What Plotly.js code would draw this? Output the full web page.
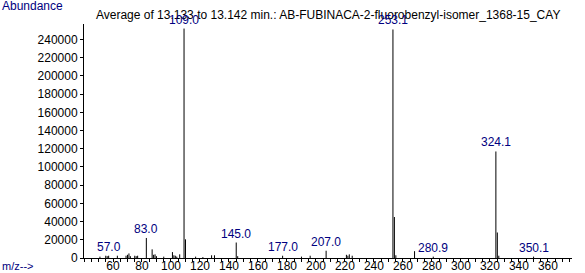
<!DOCTYPE html>
<html>
<head>
<meta charset="utf-8">
<script src="https://cdn.plot.ly/plotly-3.0.1.min.js"></script>
<style>html,body{margin:0;padding:0;background:#fff;}#chart{width:585px;height:273px;}</style>
</head>
<body>
<div id="chart"></div>
<script>
// m/z values of the peaks and their abundances
const mz = [51.0, 55.0, 56.0, 57.0, 63.0, 69.0, 70.0, 71.0, 72.0, 75.0, 76.0, 77.0,
  83.0, 87.0, 88.0, 89.0, 90.0, 95.0, 101.0, 102.0, 103.0, 104.0, 106.0,
  109.0, 110.0, 117.0, 122.0, 128.0, 130.0, 145.0, 146.0, 177.0, 190.0, 196.0,
  207.0, 221.0, 222.0, 223.0, 225.0, 253.1, 254.1, 255.1, 268.0, 280.9,
  324.1, 325.1, 326.1, 350.1];
const abundance = [1500, 2500, 2000, 2500, 2500, 2500, 3500, 5000, 2000, 2500, 2000, 2500,
  22000, 9500, 3500, 4000, 2000, 1500, 6500, 3000, 2500, 1500, 4000,
  252000, 20500, 1500, 1000, 3000, 3000, 17000, 2000, 2500, 1500, 2500,
  8000, 3500, 2500, 4000, 2500, 251000, 45000, 3000, 7500, 1500,
  117000, 28000, 2500, 1500];
// labelled peaks
const labelMz = [57.0, 83.0, 109.0, 145.0, 177.0, 207.0, 253.1, 280.9, 324.1, 350.1];
const labelText = ["57.0", "83.0", "109.0", "145.0", "177.0", "207.0", "253.1", "280.9", "324.1", "350.1"];
// x tick labels
const xTickVals = [60, 80, 100, 120, 140, 160, 180, 200, 220, 240, 260, 280, 300, 320, 340, 360];
const xTickText = ["60", "80", "100", "120", "140", "160", "180", "200", "220", "240", "260", "280", "300", "320", "340", "360"];

const titleText = "Average of 13.133 to 13.142 min.: AB-FUBINACA-2-fluorobenzyl-isomer_1368-15_CAY";
const yLabel = "Abundance";
const xLabel = "m/z-->";

const FONT = 'Liberation Sans, Arial, sans-serif';
const xs = [], ys = [];
mz.forEach((m, i) => { xs.push(m, m, null); ys.push(0, abundance[i], null); });

const annotations = labelMz.map((m, i) => {
  const idx = mz.indexOf(m);
  return {
    x: m, y: abundance[idx], xref: 'x', yref: 'y', text: labelText[i],
    showarrow: false, xanchor: 'center', yanchor: 'bottom', yshift: 0,
    font: {family: FONT, size: 12, color: '#000080'}
  };
});
annotations.push({
  xref: 'paper', yref: 'paper', x: -0.172, y: 1.075, xanchor: 'left', yanchor: 'middle',
  text: yLabel, showarrow: false,
  font: {family: FONT, size: 12, color: '#000080'}
});
annotations.push({
  xref: 'paper', yref: 'paper', x: -0.172, y: -0.036, xanchor: 'left', yanchor: 'middle',
  text: xLabel, showarrow: false,
  font: {family: FONT, size: 11, color: '#000080'}
});

const layout = {
  width: 585, height: 273,
  margin: {l: 84, r: 13, t: 24, b: 15, pad: 0},
  paper_bgcolor: '#fff', plot_bgcolor: '#fff',
  showlegend: false,
  font: {family: FONT, size: 12, color: '#000'},
  title: {
    text: titleText, xref: 'container', yref: 'container',
    x: 0.561, xanchor: 'center', y: 0.945, yanchor: 'middle',
    font: {family: FONT, size: 12, color: '#000'}
  },
  xaxis: {
    range: [40, 376.6], showgrid: false, zeroline: false,
    showline: true, linecolor: '#000', linewidth: 1,
    ticks: 'outside', ticklen: 3, tickcolor: '#000', tickwidth: 1,
    tickmode: 'array', tickvals: xTickVals, ticktext: xTickText,
    ticklabelstandoff: -6,
    minor: {ticks: 'outside', ticklen: 3, dtick: 5, tick0: 0, tickcolor: '#000', showgrid: false},
    tickfont: {size: 12, color: '#000'}
  },
  yaxis: {
    range: [0, 257000], showgrid: false, zeroline: false,
    showline: true, linecolor: '#000', linewidth: 1,
    ticks: 'outside', ticklen: 3, tickcolor: '#000',
    tick0: 0, dtick: 20000, tickformat: 'd',
    tickfont: {size: 12, color: '#000'}
  },
  annotations: annotations
};

Plotly.newPlot('chart', [{
  type: 'scatter', mode: 'lines', x: xs, y: ys,
  line: {color: '#000', width: 1}, hoverinfo: 'skip', connectgaps: false
}], layout, {staticPlot: true, displayModeBar: false});
</script>
</body>
</html>
